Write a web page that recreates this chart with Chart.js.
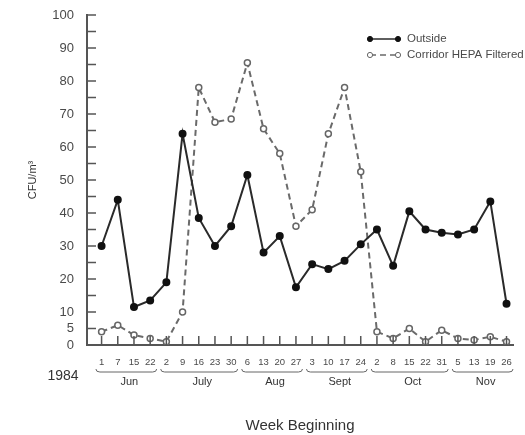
<!DOCTYPE html>
<html>
<head>
<meta charset="utf-8">
<script src="https://cdn.jsdelivr.net/npm/chart.js@4/dist/chart.umd.min.js"></script>
<style>
  html, body { margin: 0; padding: 0; background: #fff; }
  #wrap { width: 525px; height: 435px; position: relative; }
</style>
</head>
<body>
<div id="wrap"><canvas id="chart"></canvas></div>
<script>
const weekLabels = ['1', '7', '15', '22', '2', '9', '16', '23', '30', '6', '13', '20', '27', '3', '10', '17', '24', '2', '8', '15', '22', '31', '5', '13', '19', '26'];
const outside = [30, 44, 11.5, 13.5, 19, 64, 38.5, 30, 36, 51.5, 28, 33, 17.5, 24.5, 23, 25.5, 30.5, 35, 24, 40.5, 35, 34, 33.5, 35, 43.5, 12.5];
const hepa = [4, 6, 3, 2, 1, 10, 78, 67.5, 68.5, 85.5, 65.5, 58, 36, 41, 64, 78, 52.5, 4, 2, 5, 1, 4.5, 2, 1.5, 2.5, 1];
const monthNames = ['Jun', 'July', 'Aug', 'Sept', 'Oct', 'Nov'];
const monthFirst = [0, 4, 9, 13, 17, 22];
const yLabelled = [0, 5, 10, 20, 30, 40, 50, 60, 70, 80, 90, 100];

const inkColor = '#4a4a4a';
const fontFamily = '"Liberation Sans", Arial, sans-serif';

// ticks inside the axes, month braces, year, legend
const decorations = {
  id: 'decorations',
  afterDraw(chart) {
    const ctx = chart.ctx;
    const xs = chart.scales.x, ys = chart.scales.y;
    const area = chart.chartArea;
    ctx.save();
    ctx.strokeStyle = '#555';
    ctx.lineWidth = 1.5;
    ctx.beginPath();
    weekLabels.forEach((_, i) => {
      const px = xs.getPixelForValue(i);
      ctx.moveTo(px, area.bottom);
      ctx.lineTo(px, area.bottom - 9);
    });
    for (let v = 5; v <= 100; v += 5) {
      const py = ys.getPixelForValue(v);
      ctx.moveTo(area.left, py);
      ctx.lineTo(area.left + 9, py);
    }
    ctx.stroke();

    // month braces
    const braceY = area.bottom + 27;
    ctx.lineWidth = 1;
    ctx.strokeStyle = '#666';
    ctx.fillStyle = '#333';
    ctx.font = '11px ' + fontFamily;
    ctx.textAlign = 'center';
    ctx.textBaseline = 'middle';
    monthNames.forEach((m, k) => {
      const first = monthFirst[k];
      const last = k + 1 < monthFirst.length ? monthFirst[k + 1] - 1 : weekLabels.length - 1;
      const x0 = xs.getPixelForValue(first - 0.35);
      const x1 = xs.getPixelForValue(last + 0.4);
      ctx.beginPath();
      ctx.moveTo(x0, braceY - 3);
      ctx.quadraticCurveTo(x0, braceY, x0 + 4, braceY);
      ctx.lineTo(x1 - 4, braceY);
      ctx.quadraticCurveTo(x1, braceY, x1, braceY - 3);
      ctx.stroke();
      ctx.fillText(m, (x0 + x1) / 2 + 3, braceY + 10);
    });

    ctx.font = '14px ' + fontFamily;
    ctx.fillStyle = '#333';
    ctx.fillText('1984', 63, area.bottom + 31);

    // legend
    const lx = 370, lw = 28;
    chart.data.datasets.forEach((ds, k) => {
      const ly = 39 + k * 16;
      ctx.strokeStyle = ds.borderColor;
      ctx.lineWidth = 1.5;
      ctx.setLineDash(ds.borderDash || []);
      ctx.beginPath();
      ctx.moveTo(lx, ly);
      ctx.lineTo(lx + lw, ly);
      ctx.stroke();
      ctx.setLineDash([]);
      [lx, lx + lw].forEach(cx => {
        ctx.beginPath();
        ctx.arc(cx, ly, 2.6, 0, Math.PI * 2);
        ctx.fillStyle = ds.pointBackgroundColor;
        ctx.fill();
        ctx.strokeStyle = ds.pointBorderColor;
        ctx.lineWidth = 1;
        ctx.stroke();
      });
      ctx.fillStyle = inkColor;
      ctx.font = '11.5px ' + fontFamily;
      ctx.textAlign = 'left';
      ctx.fillText(ds.label, lx + lw + 9, ly);
    });
    ctx.restore();
  }
};

new Chart(document.getElementById('chart'), {
  type: 'line',
  data: {
    datasets: [
      {
        label: 'Outside',
        data: outside.map((y, i) => ({ x: i, y })),
        borderColor: '#2a2a2a',
        borderWidth: 2,
        pointRadius: 3,
        pointBackgroundColor: '#111',
        pointBorderColor: '#111',
        tension: 0
      },
      {
        label: 'Corridor HEPA Filtered',
        data: hepa.map((y, i) => ({ x: i, y })),
        borderColor: '#6a6a6a',
        borderDash: [6, 4],
        borderWidth: 2,
        pointRadius: 3,
        pointBackgroundColor: '#fff',
        pointBorderColor: '#666',
        pointBorderWidth: 1.5,
        tension: 0
      }
    ]
  },
  options: {
    responsive: true,
    maintainAspectRatio: false,
    animation: false,
    layout: { padding: { top: 15, right: 12, left: 0, bottom: 0 } },
    plugins: {
      legend: { display: false },
      tooltip: { enabled: false }
    },
    scales: {
      x: {
        type: 'linear',
        min: -0.9,
        max: 25.4,
        grid: { display: false },
        border: { display: true, color: '#555', width: 2 },
        afterBuildTicks: scale => { scale.ticks = weekLabels.map((_, i) => ({ value: i })); },
        afterFit: scale => { scale.height = 90; },
        ticks: {
          autoSkip: false,
          maxRotation: 0,
          padding: 4,
          color: inkColor,
          font: { family: fontFamily, size: 9.5 },
          callback: v => weekLabels[v] ?? ''
        },
        title: {
          display: true,
          text: 'Week Beginning',
          color: '#333',
          font: { family: fontFamily, size: 15 },
          padding: { top: 0, bottom: 0 }
        }
      },
      y: {
        min: 0,
        max: 100,
        grid: { display: false },
        border: { display: true, color: '#555', width: 2 },
        afterBuildTicks: scale => { scale.ticks = yLabelled.map(v => ({ value: v })); },
        afterFit: scale => { scale.width = 87; },
        ticks: {
          padding: 5,
          color: inkColor,
          font: { family: fontFamily, size: 13 }
        },
        title: {
          display: true,
          text: 'CFU/m³',
          color: '#333',
          font: { family: fontFamily, size: 11 },
          padding: { top: 26, bottom: 0 }
        }
      }
    }
  },
  plugins: [decorations]
});
</script>
</body>
</html>
